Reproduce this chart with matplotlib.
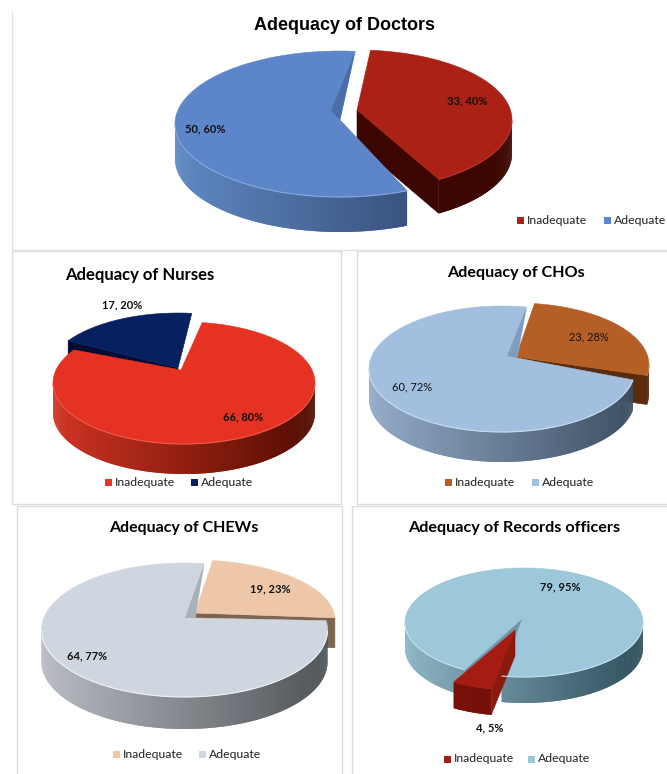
"""Five exploded 3D-look pies, staffing adequacy per cadre."""
import numpy as np
import matplotlib
matplotlib.use("Agg")
import matplotlib.pyplot as plt
from matplotlib.colors import to_rgb
from matplotlib.patches import Polygon, Rectangle

categories = ["Inadequate", "Adequate"]
doctors = [33, 50]
nurses = [66, 17]
chos = [23, 60]
chews = [19, 64]
records = [4, 79]

plt.rcParams["font.family"] = ["Lato", "DejaVu Sans"]


def rim(s, t):
    t = np.radians(t)
    return s["c"][0] + s["rx"] * np.cos(t), s["c"][1] - s["ry"] * np.sin(t)


def mix(a, b, f):
    a, b = np.array(to_rgb(a)), np.array(to_rgb(b))
    return tuple(a + (b - a) * min(max(f, 0), 1))


def draw_face(ax, s, t, inner, is_end=False):
    """Flat radial cut under the top edge, only if it looks towards the viewer."""
    ap = np.array(s["apex"], float)
    r = np.array(rim(s, t))
    e = r - ap
    n = np.array([e[1], -e[0]])
    if np.dot(n, np.array(rim(s, inner)) - ap) > 0:
        n = -n
    if n[1] <= 0:
        return
    if is_end and s.get("notch") and r[1] < ap[1]:
        return
    d = s["depth"]
    pts = [ap, r, r + [0, d], ap + [0, d]]
    ax.add_patch(Polygon(pts, fc=s["cut"], ec=s["cut"], lw=0.4))


def draw_slice(ax, s, value, total):
    sweep = 360 * value / total * s["squeeze"]
    t0, t1 = s["start"], s["start"] - sweep
    step = 5 if sweep > 10 else 1
    draw_face(ax, s, t0, t0 - min(step, sweep / 2))
    draw_face(ax, s, t1, t1 + min(step, sweep / 2), is_end=True)

    # outer wall, shaded in overlapping strips so no seams show
    ts = np.linspace(t0, t1, int(sweep) * 2 + 3)
    for a, b, c in zip(ts[:-2], ts[1:-1], ts[2:]):
        if np.sin(np.radians(b)) >= 0:
            continue
        a = min(a, 0) if np.sin(np.radians(a)) > 0 else a
        xa, ya = rim(s, a)
        xb, yb = rim(s, b)
        xc, yc = rim(s, c)
        f = (xb - (s["c"][0] - s["rx"])) / (2 * s["rx"])
        col = mix(s["wall_l"], s["wall_r"], f)
        d = s["depth"]
        ax.add_patch(Polygon([(xa, ya), (xb, yb), (xc, yc), (xc, yc + d), (xb, yb + d), (xa, ya + d)],
                             fc=col, ec="none"))

    arc = [rim(s, t) for t in ts]
    ax.add_patch(Polygon([s["apex"]] + arc, fc=s["top"], ec=s["top"], lw=0.4))

    if s.get("notch"):
        ap = np.array(s["apex"], float)
        ax.add_patch(Polygon([rim(s, t1), ap, ap + s["notch_off"]], fc=s["notch"], ec="none"))

    # thin lit edge along the front of the rim
    if s.get("edge"):
        xs = [rim(s, t)[0] if np.sin(np.radians(t)) < 0 else np.nan for t in ts]
        ys = [rim(s, t)[1] if np.sin(np.radians(t)) < 0 else np.nan for t in ts]
        ax.plot(xs, ys, color=s["edge"], lw=0.8, solid_capstyle="butt")


panels = [
    dict(values=doctors, box=(12, 12, 668, 238), title="Adequacy of Doctors", title_xy=(344, 25),
         title_font="Liberation Sans", title_size=13, order=[0, 1], bold=True, open_top=True,
         labels=[(467, 101), (205, 129)], legend_y=220, legend_x=[520, 607],
         slices=[
             dict(c=(357, 120), rx=155, ry=70, apex=(357, 110), start=85, squeeze=1.0, depth=34,
                  top="#ab2115", cut="#3d0500", wall_l="#4a0700", wall_r="#3a0500", edge="#b93527"),
             dict(c=(340, 124), rx=165, ry=73, apex=(340, 120), start=-66, squeeze=0.965, depth=35,
                  top="#5c86c9", cut="#2c4369", wall_l="#5f88c2", wall_r="#283d62", edge="#86a8dc",
                  notch="#4a6fa8", notch_off=(-9, -9)),
         ]),
    dict(values=nurses, box=(12, 251, 329, 253), title="Adequacy of Nurses", title_xy=(140, 275),
         title_font="Lato", title_size=12, order=[1, 0], bold=True,
         labels=[(243, 417), (122, 305)], legend_y=482, legend_x=[108, 194],
         slices=[
             dict(c=(184, 383), rx=131, ry=61, apex=(181, 370), start=82, squeeze=1.03, depth=30,
                  top="#e63222", cut="#7a1508", wall_l="#cf3322", wall_r="#520c00", edge="#ee5a4a"),
             dict(c=(178, 374), rx=131, ry=61, apex=(178, 368), start=147, squeeze=0.855, depth=30,
                  top="#07205f", cut="#020c33", wall_l="#020c33", wall_r="#020c33",
                  notch="#12337a", notch_off=(5, -22)),
         ]),
    dict(values=chos, box=(357, 251, 311, 253), title="Adequacy of CHOs", title_xy=(516, 273),
         title_font="Lato", title_size=11.6, order=[0, 1], bold=False,
         labels=[(589, 337), (412, 387)], legend_y=482, legend_x=[448, 535],
         slices=[
             dict(c=(516, 365), rx=133, ry=62, apex=(516, 357), start=82, squeeze=0.92, depth=29,
                  top="#b55f27", cut="#5a2c0b", wall_l="#5a2c0b", wall_r="#4f2708", edge="#c47a48"),
             dict(c=(502, 369), rx=133, ry=63, apex=(517, 358), start=-10, squeeze=1.04, depth=30,
                  top="#a2bfe0", cut="#3f5366", wall_l="#92abc8", wall_r="#3c4f62", edge="#c9dcf2",
                  notch="#7f9dbf", notch_off=(-10, -2)),
         ]),
    dict(values=chews, box=(17, 506, 325, 270), title="Adequacy of CHEWs", title_xy=(184, 528),
         title_font="Lato", title_size=11.5, order=[0, 1], bold=True,
         labels=[(270, 589), (87, 656)], legend_y=754, legend_x=[116, 202],
         slices=[
             dict(c=(193, 620), rx=142, ry=60, apex=(195, 613), start=82, squeeze=0.97, depth=30,
                  top="#edc7a8", cut="#7d6450", wall_l="#7d6450", wall_r="#7d6450"),
             dict(c=(184.5, 630), rx=143, ry=67, apex=(195, 618), start=8, squeeze=1.03, depth=32,
                  top="#d0d6df", cut="#50565b", wall_l="#b8bcc3", wall_r="#4e5458", edge="#eef1f5",
                  notch="#a8b0b8", notch_off=(-10, 0)),
         ]),
    dict(values=records, box=(352, 506, 316, 270), title="Adequacy of Records officers", title_xy=(514, 528),
         title_font="Lato", title_size=11.7, order=[1, 0], bold=True,
         labels=[(490, 728), (560, 587)], legend_y=759, legend_x=[447, 531],
         slices=[
             dict(c=(515, 636), rx=119, ry=54, apex=(515, 630), start=-101.5, squeeze=1.13, depth=26,
                  top="#a51c12", cut="#8a1a0e", wall_l="#7a120a", wall_r="#6e100a"),
             dict(c=(524, 622.5), rx=119, ry=54.5, apex=(522.6, 618), start=240, squeeze=0.995, depth=26,
                  top="#9dc8da", cut="#6f97a8", wall_l="#8cb4c4", wall_r="#2f4f5c", edge="#c4e2ee"),
         ]),
]

fig = plt.figure(figsize=(6.67, 7.74), dpi=100)
ax = fig.add_axes([0, 0, 1, 1])
ax.set_xlim(0, 667)
ax.set_ylim(774, 0)
ax.axis("off")

for p in panels:
    x, y, w, h = p["box"]
    if p.get("open_top"):
        ax.plot([x, x, x + w], [y, y + h, y + h], color="#e2e2e2", lw=1)
    else:
        ax.add_patch(Rectangle((x, y), w, h, fc="white", ec="#dcdcdc", lw=1))

for p in panels:
    total = sum(p["values"])
    for i in p["order"]:
        draw_slice(ax, p["slices"][i], p["values"][i], total)

    ax.text(*p["title_xy"], p["title"], ha="center", va="center", fontweight="bold",
            fontsize=p["title_size"], family=[p["title_font"], "DejaVu Sans"])

    for v, xy in zip(p["values"], p["labels"]):
        ax.text(*xy, f"{v}, {round(100 * v / total)}%", ha="center", va="center", fontsize=8,
                fontweight="bold" if p["bold"] else "normal", color="#111111")

    for name, mx, s in zip(categories, p["legend_x"], p["slices"]):
        ax.add_patch(Rectangle((mx - 3.5, p["legend_y"] - 3.5), 7, 7, fc=s["top"], ec="none"))
        ax.text(mx + 7, p["legend_y"], name, ha="left", va="center", fontsize=8.8, color="#222222")

ax.set_xlim(0, 667)
ax.set_ylim(774, 0)
fig.savefig("out.png", dpi=100)
